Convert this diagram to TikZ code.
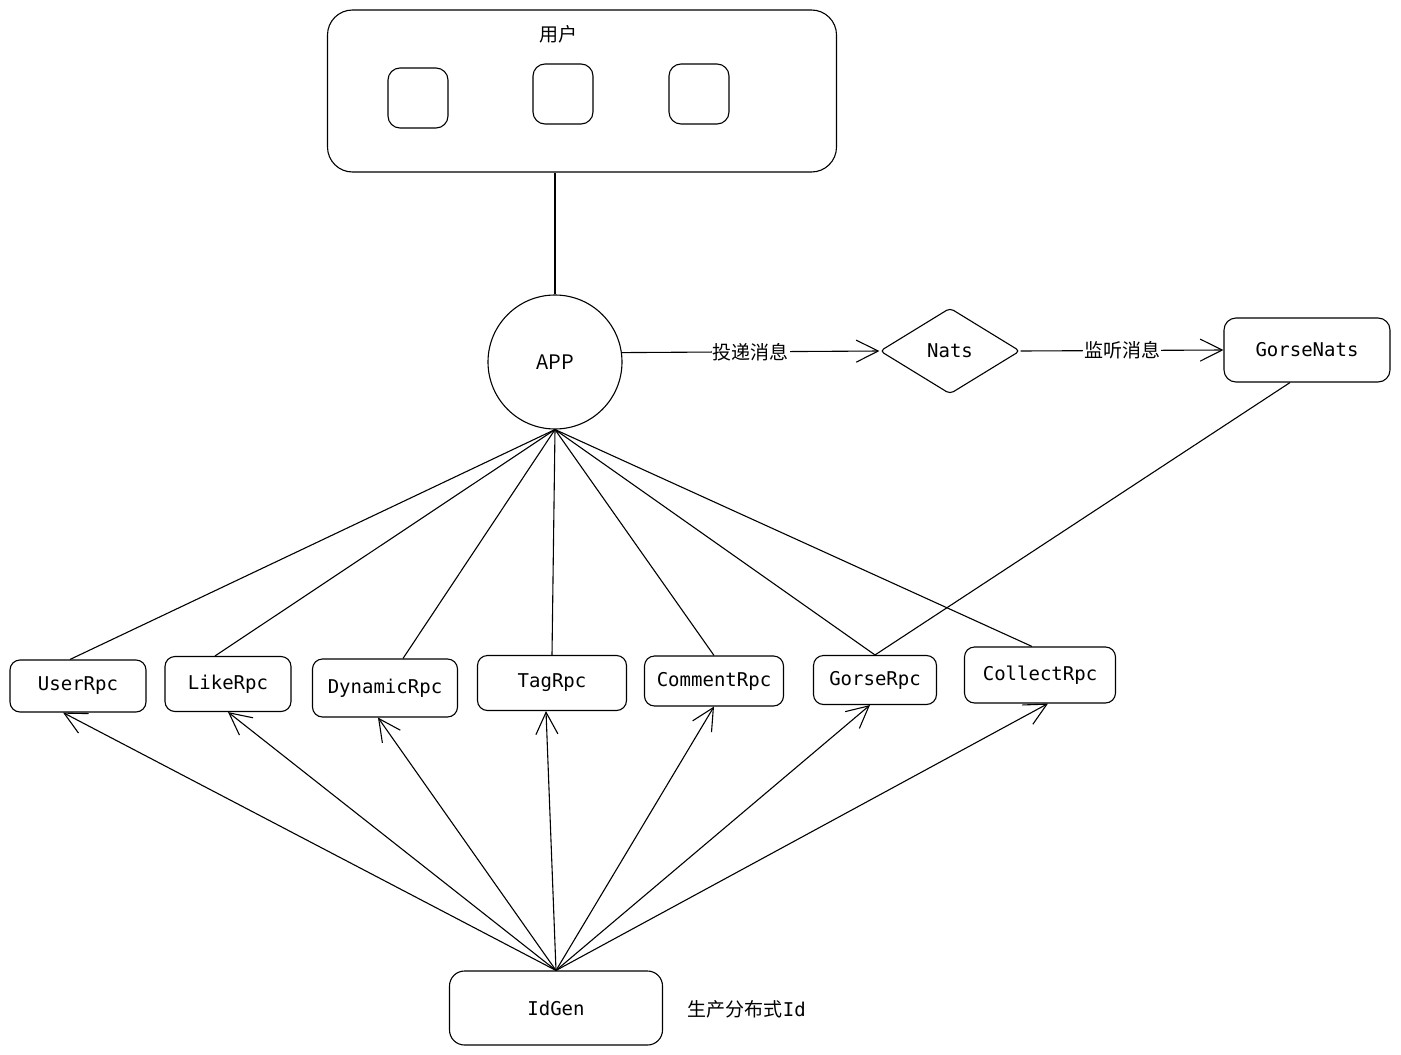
\documentclass[tikz,border=0pt]{standalone}
\usepackage{fontspec}
\setmonofont{DejaVu Sans Mono}
\newfontfamily\cjk{Noto Sans CJK SC}
\usetikzlibrary{arrows.meta,shapes.geometric}

\begin{document}
\begin{tikzpicture}[x=1pt, y=-1pt, line width=1.1pt,
    >={Straight Barb[length=22pt,width=22pt]},
    box/.style={draw, rounded corners=10pt, inner sep=0pt,
        font=\fontsize{19}{22}\selectfont\ttfamily},
    slot/.style={draw, rounded corners=12pt, minimum size=60pt},
    msg/.style={fill=white, inner sep=1pt, font=\fontsize{19}{22}\selectfont\cjk}]
    \useasboundingbox (0,0) rectangle (1401,1055);

    % 1. 用户区域
    \node[draw, rounded corners=25pt, minimum width=509pt, minimum height=162pt] (user) at (582,91) {};
    \node[font=\fontsize{19}{22}\selectfont\cjk] (usertitle) at (558,34) {用户};
    \node[slot] (u1) at (418,98) {};
    \node[slot] (u2) at (563,94) {};
    \node[slot] (u3) at (699,94) {};

    % 2. APP 与消息队列
    \node[draw, circle, minimum size=134pt, inner sep=0pt,
        font=\fontsize{20}{22}\selectfont\cjk] (app) at (555,362) {APP};
    \node[draw, diamond, rounded corners=4pt, minimum width=140pt, minimum height=86pt, inner sep=0pt,
        font=\fontsize{19}{22}\selectfont\ttfamily] (nats) at (950,351) {Nats};
    \node[box, rounded corners=12pt, minimum width=166pt, minimum height=64pt] (gnats) at (1307,350) {GorseNats};

    \draw (app.north) -- (app.north |- user.south);
    \draw[->] (app.8) -- (nats.west) node[msg, midway] {投递消息};
    \draw[->] (nats.east) -- (gnats.west) node[msg, midway] {监听消息};

    % 3. Rpc 服务
    \node[box, minimum width=136pt, minimum height=52pt] (userrpc) at (78,686) {UserRpc};
    \node[box, minimum width=126pt, minimum height=55pt] (likerpc) at (228,684) {LikeRpc};
    \node[box, minimum width=145pt, minimum height=58pt] (dynrpc) at (385,688) {DynamicRpc};
    \node[box, minimum width=149pt, minimum height=55pt] (tagrpc) at (552,683) {TagRpc};
    \node[box, minimum width=139pt, minimum height=50pt] (cmtrpc) at (714,681) {CommentRpc};
    \node[box, minimum width=123pt, minimum height=49pt] (gorserpc) at (875,680) {GorseRpc};
    \node[box, minimum width=151pt, minimum height=56pt] (colrpc) at (1040,675) {CollectRpc};

    \draw (app.south) -- ([xshift=-8pt]userrpc.north);
    \draw (app.south) -- ([xshift=-13pt]likerpc.north);
    \draw (app.south) -- ([xshift=18pt]dynrpc.north);
    \draw (app.south) -- (tagrpc.north);
    \draw (app.south) -- (cmtrpc.north);
    \draw (app.south) -- (gorserpc.north);
    \draw (app.south) -- ([xshift=-8pt]colrpc.north);
    \draw ([xshift=-17pt]gnats.south) -- (gorserpc.north);

    % 4. IdGen
    \node[box, rounded corners=15pt, minimum width=213pt, minimum height=74pt] (idgen) at (556,1008) {IdGen};
    \node[font=\fontsize{19}{22}\selectfont\cjk, anchor=west] (idnote) at (684,1009) {生产分布式\texttt{Id}};

    \draw[->] (idgen.north) -- ([xshift=-15pt]userrpc.south);
    \draw[->] (idgen.north) -- (likerpc.south);
    \draw[->] (idgen.north) -- ([xshift=-7pt]dynrpc.south);
    \draw[->] (idgen.north) -- ([xshift=-6pt]tagrpc.south);
    \draw[->] (idgen.north) -- (cmtrpc.south);
    \draw[->] (idgen.north) -- ([xshift=-5pt]gorserpc.south);
    \draw[->] (idgen.north) -- ([xshift=8pt]colrpc.south);
\end{tikzpicture}
\end{document}
